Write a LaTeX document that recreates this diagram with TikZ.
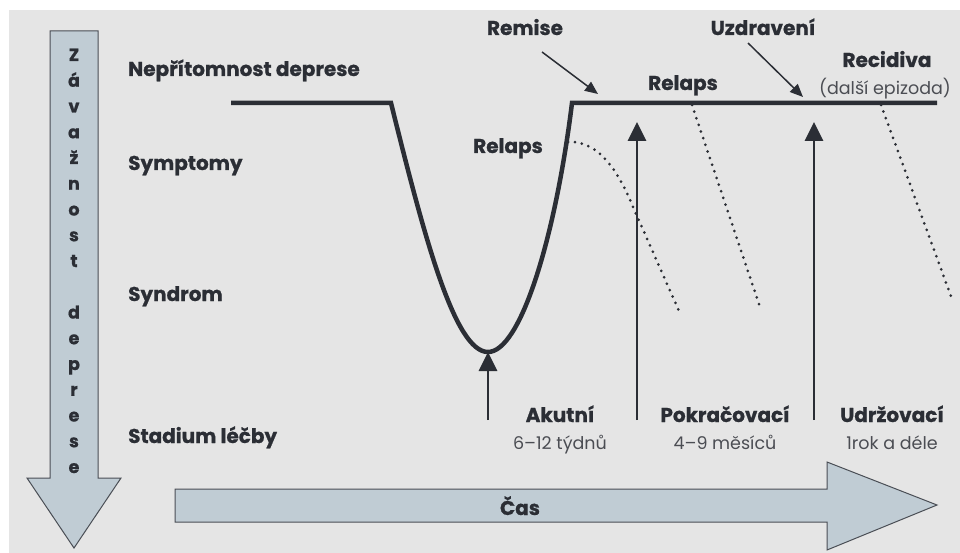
\documentclass[tikz,border=0pt]{standalone}
\usepackage{fontspec}
\setmainfont{Poppins}[BoldFeatures={FakeBold=0.8}]
\usetikzlibrary{arrows.meta}
\definecolor{bg}{HTML}{E5E5E5}
\definecolor{ink}{HTML}{2B2E35}
\definecolor{arrfill}{HTML}{C0CCD4}
\definecolor{arredge}{HTML}{4A4E55}
\tikzset{
  lab/.style={font=\bfseries\fontsize{20}{23}\selectfont, text=ink, inner sep=0pt},
  sub/.style={font=\fontsize{17.5}{20}\selectfont, text=ink!85, inner sep=0pt},
  vlet/.style={font=\bfseries\fontsize{17.5}{19}\selectfont, text=ink, inner sep=0pt, anchor=base},
  curve/.style={draw=ink, line width=4.5pt, line join=miter},
  dots/.style={draw=ink, line width=3pt, line cap=round, dash pattern=on 0pt off 7pt},
  stagearrow/.style={draw=ink, line width=2.8pt, -{Triangle[length=19pt,width=18pt]}},
  pointer/.style={draw=ink, line width=1.5pt, -{Triangle[length=13pt,width=11pt]}},
  bigarrow/.style={fill=arrfill, draw=arredge, line width=1pt, line join=miter}
}
\begin{document}
\begin{tikzpicture}[x=1pt,y=-1pt]
\useasboundingbox (0,0) rectangle (960,553);
\fill[white] (0,0) rectangle (960,553);
\fill[bg] (9,10) rectangle (960,553);

% big arrows
\path[bigarrow] (50,31) -- (98,31) -- (98,478) -- (121,478) -- (74,548) -- (27,478) -- (50,478) -- cycle;
\path[bigarrow] (175,489) -- (827,489) -- (827,462) -- (937,505) -- (827,550) -- (827,522) -- (175,522) -- cycle;
\foreach \ch [count=\i from 0] in {Z,á,v,a,ž,n,o,s,t,{},d,e,p,r,e,s,e}
  \node[vlet] (v\i) at (74,61+25.75*\i) {\ch};
\node[lab, anchor=base] (cas) at (520,515) {Čas};

% left labels
\node[lab, anchor=base west] (l1) at (128,76) {Nepřítomnost deprese};
\node[lab, anchor=base west] (l2) at (128,170) {Symptomy};
\node[lab, anchor=base west] (l3) at (128,301) {Syndrom};
\node[lab, anchor=base west] (l4) at (128,443) {Stadium léčby};

% main course
\coordinate (c0) at (231,103);
\coordinate (c1) at (391,103);
\coordinate (cmin) at (488,352);
\coordinate (c2) at (572,103);
\coordinate (c3) at (937,103);
\path[curve] (c0) -- (c1) .. controls (425,240) and (455,352) .. (cmin)
  .. controls (520,352) and (555,240) .. (c2) -- (c3);

% relapse / recurrence dotted lines
\coordinate (r1s) at (568,142);
\coordinate (r1m) at (633,207);
\coordinate (r1e) at (679,311);
\path[dots] (r1s) .. controls (600,140) and (620,175) .. (r1m) -- (r1e);
\coordinate (r2s) at (692,105);
\coordinate (r2e) at (761,310);
\path[dots] (r2s) -- (r2e);
\coordinate (r3s) at (881,105);
\coordinate (r3e) at (952,299);
\path[dots] (r3s) -- (r3e);

% stage arrows
\coordinate (a1b) at (488,420);
\coordinate (a2b) at (637,420);
\coordinate (a2t) at (637,122);
\coordinate (a3b) at (814,420);
\coordinate (a3t) at (814,122);
\path[stagearrow] (a1b) -- (cmin);
\path[stagearrow] (a2b) -- (a2t);
\path[stagearrow] (a3b) -- (a3t);

% top labels and pointers
\node[lab, anchor=base] (remise) at (525,35) {Remise};
\node[lab, anchor=base] (uzdr) at (763,35) {Uzdravení};
\node[lab, anchor=base] (recid) at (887,67) {Recidiva};
\node[sub, anchor=base] (dalsi) at (885,95) {(další epizoda)};
\node[lab, anchor=base] (relaps1) at (683,90) {Relaps};
\node[lab, anchor=base] (relaps2) at (508,153) {Relaps};
\coordinate (p1s) at (542,52);
\coordinate (p1e) at (598,94);
\coordinate (p2s) at (748,43);
\coordinate (p2e) at (803,97);
\path[pointer] (p1s) -- (p1e);
\path[pointer] (p2s) -- (p2e);

% stage labels
\node[lab, anchor=base] (s1) at (560,422) {Akutní};
\node[sub, anchor=base] (s1d) at (560,449) {6–12 týdnů};
\node[lab, anchor=base] (s2) at (725,422) {Pokračovací};
\node[sub, anchor=base] (s2d) at (725,449) {4–9 měsíců};
\node[lab, anchor=base] (s3) at (892,422) {Udržovací};
\node[sub, anchor=base] (s3d) at (892,449) {1rok a déle};
\end{tikzpicture}
\end{document}
